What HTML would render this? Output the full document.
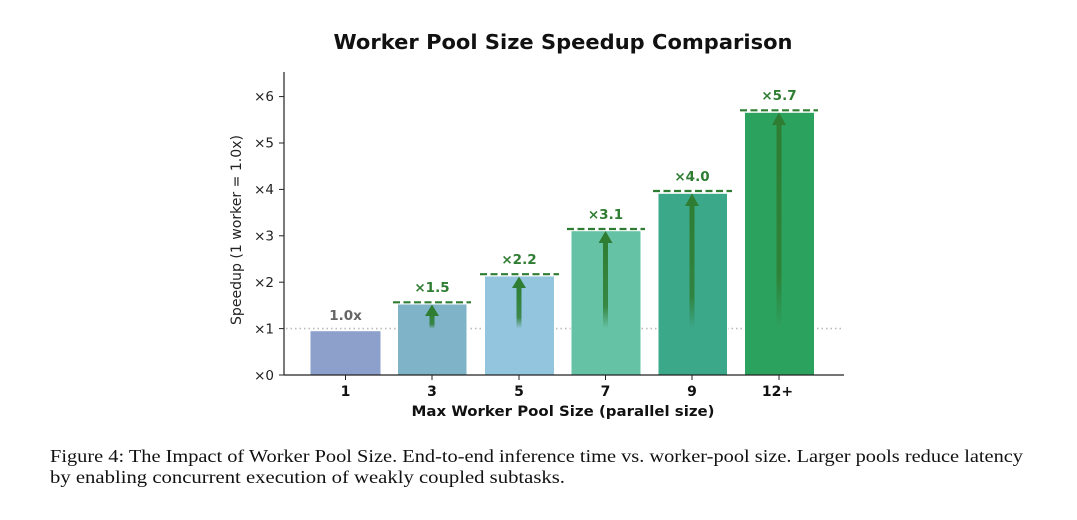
<!DOCTYPE html>
<html><head><meta charset="utf-8"><style>
html,body{margin:0;padding:0;background:#fff;width:1077px;height:520px;overflow:hidden}
</style></head><body>
<svg width="1077" height="520" viewBox="0 0 1077 520" xmlns="http://www.w3.org/2000/svg">
<defs>
<linearGradient id="ag" x1="0" y1="1" x2="0" y2="0">
<stop offset="0" stop-color="#2e7d32" stop-opacity="0"/>
<stop offset="0.25" stop-color="#2e7d32" stop-opacity="0.85"/>
<stop offset="1" stop-color="#2e7d32" stop-opacity="1"/>
</linearGradient>
</defs>
<text x="563" y="49" text-anchor="middle" font-family="DejaVu Sans, sans-serif" font-weight="bold" font-size="20.5" fill="#111" textLength="459" lengthAdjust="spacingAndGlyphs">Worker Pool Size Speedup Comparison</text>
<line x1="286" y1="328.6" x2="843" y2="328.6" stroke="#bbb" stroke-width="1.6" stroke-dasharray="1.5,3"/>
<g stroke="#fff" stroke-width="1">
<rect x="310" y="330.7" width="71" height="44.3" fill="#8da0cb"/>
<rect x="397.5" y="304" width="69.5" height="71" fill="#7fb3c8"/>
<rect x="484.5" y="276" width="70" height="99" fill="#93c6de"/>
<rect x="571" y="230.7" width="70" height="144.3" fill="#66c2a5"/>
<rect x="658" y="193.3" width="69.5" height="181.7" fill="#3ba88a"/>
<rect x="744.5" y="112.3" width="70" height="262.7" fill="#2ca25f"/>
</g>
<g fill="url(#ag)">
<rect x="429.5" y="312" width="5" height="16.6"/>
<rect x="516.5" y="284" width="5" height="44.6"/>
<rect x="603" y="239" width="5" height="89.6"/>
<rect x="689.5" y="201" width="5" height="127.6"/>
<rect x="776.5" y="120" width="5" height="208.6"/>
</g>
<g fill="#2e7d32">
<polygon points="425,316 432,304.5 439,316"/>
<polygon points="512,288 519,276.5 526,288"/>
<polygon points="598.5,243 605.5,231 612.5,243"/>
<polygon points="685,206 692,193.5 699,206"/>
<polygon points="772,125 779,112.5 786,125"/>
</g>
<g stroke="#2e7d32" stroke-width="2.2" stroke-dasharray="7,3.5">
<line x1="393" y1="302.3" x2="471" y2="302.3"/>
<line x1="480" y1="274.2" x2="559" y2="274.2"/>
<line x1="567" y1="229" x2="645" y2="229"/>
<line x1="653" y1="191" x2="732" y2="191"/>
<line x1="740" y1="110.3" x2="818" y2="110.3"/>
</g>
<g font-family="DejaVu Sans, sans-serif" font-weight="bold" font-size="13.5" text-anchor="middle" fill="#2e7d32">
<text x="345.5" y="320" fill="#666">1.0x</text>
<text x="432" y="292">×1.5</text>
<text x="519" y="264">×2.2</text>
<text x="605.5" y="219">×3.1</text>
<text x="692" y="181">×4.0</text>
<text x="779" y="100">×5.7</text>
</g>
<line x1="284" y1="72" x2="284" y2="375.5" stroke="#222" stroke-width="1.2"/>
<line x1="284" y1="375" x2="844" y2="375" stroke="#222" stroke-width="1.2"/>
<g stroke="#222" stroke-width="1">
<line x1="279" y1="375" x2="284" y2="375"/>
<line x1="279" y1="328.6" x2="284" y2="328.6"/>
<line x1="279" y1="282.2" x2="284" y2="282.2"/>
<line x1="279" y1="235.8" x2="284" y2="235.8"/>
<line x1="279" y1="189.4" x2="284" y2="189.4"/>
<line x1="279" y1="143" x2="284" y2="143"/>
<line x1="279" y1="96.6" x2="284" y2="96.6"/>
<line x1="345.5" y1="375" x2="345.5" y2="380"/>
<line x1="432" y1="375" x2="432" y2="380"/>
<line x1="519" y1="375" x2="519" y2="380"/>
<line x1="605.5" y1="375" x2="605.5" y2="380"/>
<line x1="692" y1="375" x2="692" y2="380"/>
<line x1="779" y1="375" x2="779" y2="380"/>
</g>
<g font-family="DejaVu Sans, sans-serif" font-size="13.5" text-anchor="end" fill="#222">
<text x="274" y="380">×0</text>
<text x="274" y="333.5">×1</text>
<text x="274" y="287">×2</text>
<text x="274" y="240.5">×3</text>
<text x="274" y="194">×4</text>
<text x="274" y="147.5">×5</text>
<text x="274" y="101">×6</text>
</g>
<g font-family="DejaVu Sans, sans-serif" font-size="14" font-weight="bold" text-anchor="middle" fill="#111">
<text x="345.5" y="396">1</text>
<text x="432" y="396">3</text>
<text x="519" y="396">5</text>
<text x="605.5" y="396">7</text>
<text x="692" y="396">9</text>
<text x="777.5" y="396">12+</text>
<text x="563" y="416" textLength="303" lengthAdjust="spacingAndGlyphs">Max Worker Pool Size (parallel size)</text>
</g>
<text transform="translate(241,230) rotate(-90)" text-anchor="middle" font-family="DejaVu Sans, sans-serif" font-size="14" fill="#222" textLength="190" lengthAdjust="spacingAndGlyphs">Speedup (1 worker = 1.0x)</text>
<g font-family="Liberation Serif, serif" font-size="17.5" fill="#111">
<text x="50" y="462" textLength="973" lengthAdjust="spacingAndGlyphs">Figure 4: The Impact of Worker Pool Size. End-to-end inference time vs. worker-pool size. Larger pools reduce latency</text>
<text x="50" y="483" textLength="515" lengthAdjust="spacingAndGlyphs">by enabling concurrent execution of weakly coupled subtasks.</text>
</g>
</svg>
</body></html>
